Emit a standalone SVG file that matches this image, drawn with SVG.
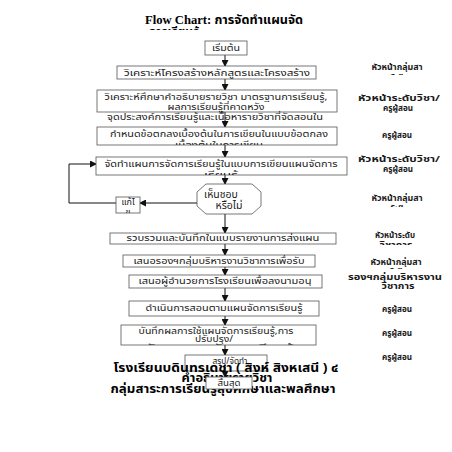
<svg xmlns="http://www.w3.org/2000/svg" width="452" height="452" viewBox="0 0 452 452">
<style>
.box{fill:#fff;stroke:#555;stroke-width:0.8}
.t{font-family:"Noto Sans Thai","Loma","Garuda","Tahoma","DejaVu Sans","Liberation Sans",sans-serif;font-size:9px;fill:#1a1a1a;text-anchor:middle}
.d{font-family:"Noto Sans Thai","Loma","Garuda","Tahoma","DejaVu Sans","Liberation Sans",sans-serif;font-size:10.5px;fill:#1a1a1a;text-anchor:middle}
.r{font-family:"Noto Sans Thai","Loma","Garuda","Tahoma","DejaVu Sans","Liberation Sans",sans-serif;font-size:9px;fill:#1a1a1a;text-anchor:middle;font-weight:bold}
.b{font-family:"Noto Sans Thai","Loma","Garuda","Tahoma","DejaVu Sans","Liberation Sans",sans-serif;font-size:12px;fill:#000;text-anchor:middle;font-weight:bold}
.ttl{font-family:"Liberation Serif","Noto Sans Thai","Loma",serif;font-size:12px;font-weight:bold;fill:#000;text-anchor:middle}
.c{fill:none;stroke:#111;stroke-width:1}
</style>
<defs>
<marker id="ah" markerWidth="7" markerHeight="7" refX="6" refY="3.5" orient="auto" markerUnits="userSpaceOnUse"><path d="M0,0 L7,3.5 L0,7 z" fill="#111"/></marker>
<clipPath id="cT"><rect x="100" y="26" width="250" height="4"/></clipPath>
<clipPath id="c3"><rect x="97" y="127" width="240" height="18"/></clipPath>
<clipPath id="c4"><rect x="96" y="157" width="251" height="18"/></clipPath>
<clipPath id="c9"><rect x="121" y="325" width="195" height="20"/></clipPath>
<clipPath id="cK"><rect x="116" y="197" width="24" height="16"/></clipPath>
<clipPath id="cR1"><rect x="340" y="60" width="112" height="15"/></clipPath>
<clipPath id="cR5"><rect x="340" y="192" width="112" height="15"/></clipPath>
<clipPath id="cR6"><rect x="340" y="228" width="112" height="17"/></clipPath>
<clipPath id="cR7"><rect x="340" y="255" width="112" height="14"/></clipPath>
</defs>
<g id="title">
<text class="ttl" x="224" y="24" textLength="158" lengthAdjust="spacingAndGlyphs">Flow Chart: การจัดทำแผนจัด</text>
<text class="ttl" x="174" y="36" clip-path="url(#cT)">การเรียนรู้</text>
</g>
<g id="connectors">
<line class="c" x1="225" y1="55" x2="225" y2="66" marker-end="url(#ah)"/>
<line class="c" x1="225" y1="79" x2="225" y2="90" marker-end="url(#ah)"/>
<line class="c" x1="225" y1="112" x2="225" y2="127" marker-end="url(#ah)"/>
<line class="c" x1="225" y1="145" x2="225" y2="157" marker-end="url(#ah)"/>
<line class="c" x1="225" y1="175" x2="225" y2="184" marker-end="url(#ah)"/>
<line class="c" x1="225" y1="214" x2="225" y2="233" marker-end="url(#ah)"/>
<line class="c" x1="225" y1="244" x2="225" y2="255" marker-end="url(#ah)"/>
<line class="c" x1="225" y1="267" x2="225" y2="275" marker-end="url(#ah)"/>
<line class="c" x1="225" y1="288" x2="225" y2="301" marker-end="url(#ah)"/>
<line class="c" x1="225" y1="316" x2="225" y2="325" marker-end="url(#ah)"/>
<line class="c" x1="225" y1="345" x2="225" y2="355" marker-end="url(#ah)"/>
<line class="c" x1="197" y1="203" x2="140" y2="203" marker-end="url(#ah)" stroke="#555"/>
<polyline class="c" points="116,203 69,203 69,164 96,164" marker-end="url(#ah)" stroke="#555"/>
</g>
<g id="start"><rect class="box" x="205" y="41" width="42" height="14"/><text class="t" x="226" y="51" textLength="28" lengthAdjust="spacingAndGlyphs">เริ่มต้น</text></g>
<g id="step1"><rect class="box" x="117" y="66" width="199" height="13"/><text class="t" x="217" y="76" textLength="186" lengthAdjust="spacingAndGlyphs">วิเคราะห์โครงสร้างหลักสูตรและโครงสร้าง</text></g>
<g id="step2"><rect class="box" x="97" y="90" width="240" height="22"/>
<text class="t" x="216" y="100" textLength="223" lengthAdjust="spacingAndGlyphs">วิเคราะห์ศึกษาคำอธิบายรายวิชา มาตรฐานการเรียนรู้,</text>
<text class="t" x="216" y="110" textLength="97" lengthAdjust="spacingAndGlyphs">ผลการเรียนรู้ที่คาดหวัง</text>
<text class="t" x="215" y="120" textLength="216" lengthAdjust="spacingAndGlyphs">จุดประสงค์การเรียนรู้และเนื้อหารายวิชาที่จัดสอนใน</text></g>
<g id="step3"><rect class="box" x="97" y="127" width="240" height="18"/>
<text class="t" x="219" y="137" textLength="218" lengthAdjust="spacingAndGlyphs">กำหนดข้อตกลงเบื้องต้นในการเขียนในแบบข้อตกลง</text>
<text class="t" x="219" y="148" clip-path="url(#c3)" textLength="88" lengthAdjust="spacingAndGlyphs">เบื้องต้นในการเขียน</text></g>
<g id="step4"><rect class="box" x="96" y="157" width="251" height="18"/>
<text class="t" x="221" y="167" textLength="233" lengthAdjust="spacingAndGlyphs">จัดทำแผนการจัดการเรียนรู้ในแบบการเขียนแผนจัดการ</text>
<text class="t" x="221" y="178" clip-path="url(#c4)" textLength="34" lengthAdjust="spacingAndGlyphs">เรียนรู้</text></g>
<g id="decision"><polygon class="box" points="206,184 252,184 261,192 261,206 252,214 206,214 197,206 197,192"/>
<text class="d" x="221" y="198">เห็นชอบ</text><text class="d" x="229" y="209">หรือไม่</text></g>
<g id="fix"><rect class="box" x="116" y="197" width="24" height="16"/>
<text class="t" x="128" y="205">แก้ไ</text><text class="t" x="128" y="215" clip-path="url(#cK)">ข</text></g>
<g id="step5"><rect class="box" x="110" y="233" width="226" height="11"/><text class="t" x="223" y="241" textLength="193" lengthAdjust="spacingAndGlyphs">รวบรวมและบันทึกในแบบรายงานการส่งแผน</text></g>
<g id="step6"><rect class="box" x="123" y="255" width="192" height="12"/><text class="t" x="219" y="264" textLength="171" lengthAdjust="spacingAndGlyphs">เสนอรองฯกลุ่มบริหารงานวิชาการเพื่อรับ</text></g>
<g id="step7"><rect class="box" x="129" y="275" width="193" height="13"/><text class="t" x="225" y="284" textLength="173" lengthAdjust="spacingAndGlyphs">เสนอผู้อำนวยการโรงเรียนเพื่อลงนามอนุ</text></g>
<g id="step8"><rect class="box" x="129" y="301" width="190" height="15"/><text class="t" x="224" y="311" textLength="157" lengthAdjust="spacingAndGlyphs">ดำเนินการสอนตามแผนจัดการเรียนรู้</text></g>
<g id="step9"><rect class="box" x="121" y="325" width="195" height="20"/>
<text class="t" x="216" y="334" textLength="155" lengthAdjust="spacingAndGlyphs">บันทึกผลการใช้แผนจัดการเรียนรู้,การ</text>
<text class="t" x="214" y="342" textLength="38" lengthAdjust="spacingAndGlyphs">ปรับปรุง/</text>
<text class="t" x="218" y="351" clip-path="url(#c9)" textLength="150" lengthAdjust="spacingAndGlyphs">พัฒนาแผนจัดการเรียนรู้</text></g>
<g id="step10"><rect class="box" x="185" y="355" width="82" height="16"/><text class="t" x="230" y="364" textLength="35" lengthAdjust="spacingAndGlyphs">สรุป/จัดทำ</text></g>
<line class="c" x1="225" y1="364" x2="225" y2="377" marker-end="url(#ah)"/>
<g id="footer">
<text class="b" x="226" y="372" textLength="225" lengthAdjust="spacingAndGlyphs">โรงเรียนบดินทรเดชา ( สิงห์ สิงหเสนี ) ๔</text>
<text class="b" x="227" y="382" textLength="91" lengthAdjust="spacingAndGlyphs">คำอธิบายรายวิชา</text>
<text class="b" x="223" y="393" textLength="225" lengthAdjust="spacingAndGlyphs">กลุ่มสาระการเรียนรู้สุขศึกษาและพลศึกษา</text>
</g>
<g id="end"><rect class="box" x="206" y="377" width="46" height="12"/><text class="t" x="229" y="386" textLength="23" lengthAdjust="spacingAndGlyphs">สิ้นสุด</text></g>
<g id="roles">
<text class="r" x="397" y="70" textLength="51" lengthAdjust="spacingAndGlyphs">หัวหน้ากลุ่มสา</text>
<text class="r" x="397" y="79" clip-path="url(#cR1)">ระฯ</text>
<text class="r" x="399" y="101" textLength="82" lengthAdjust="spacingAndGlyphs">หัวหน้าระดับวิชา/</text>
<text class="r" x="398" y="111" textLength="30" lengthAdjust="spacingAndGlyphs">ครูผู้สอน</text>
<text class="r" x="397" y="138" textLength="30" lengthAdjust="spacingAndGlyphs">ครูผู้สอน</text>
<text class="r" x="399" y="162" textLength="82" lengthAdjust="spacingAndGlyphs">หัวหน้าระดับวิชา/</text>
<text class="r" x="398" y="172" textLength="30" lengthAdjust="spacingAndGlyphs">ครูผู้สอน</text>
<text class="r" x="397" y="201" textLength="51" lengthAdjust="spacingAndGlyphs">หัวหน้ากลุ่มสา</text>
<text class="r" x="397" y="210" clip-path="url(#cR5)">ระฯ</text>
<text class="r" x="395" y="238" textLength="40" lengthAdjust="spacingAndGlyphs">หัวหน้าระดับ</text>
<text class="r" x="396" y="248" clip-path="url(#cR6)" textLength="33" lengthAdjust="spacingAndGlyphs">วิชาการ</text>
<text class="r" x="396" y="265" textLength="51" lengthAdjust="spacingAndGlyphs">หัวหน้ากลุ่มสา</text>
<text class="r" x="396" y="273" clip-path="url(#cR7)">ระฯ</text>
<text class="r" x="395" y="280" textLength="94" lengthAdjust="spacingAndGlyphs">รองฯกลุ่มบริหารงาน</text>
<text class="r" x="398" y="289" textLength="33" lengthAdjust="spacingAndGlyphs">วิชาการ</text>
<text class="r" x="397" y="312" textLength="30" lengthAdjust="spacingAndGlyphs">ครูผู้สอน</text>
<text class="r" x="397" y="336" textLength="30" lengthAdjust="spacingAndGlyphs">ครูผู้สอน</text>
<text class="r" x="397" y="360" textLength="30" lengthAdjust="spacingAndGlyphs">ครูผู้สอน</text>
</g>
</svg>
